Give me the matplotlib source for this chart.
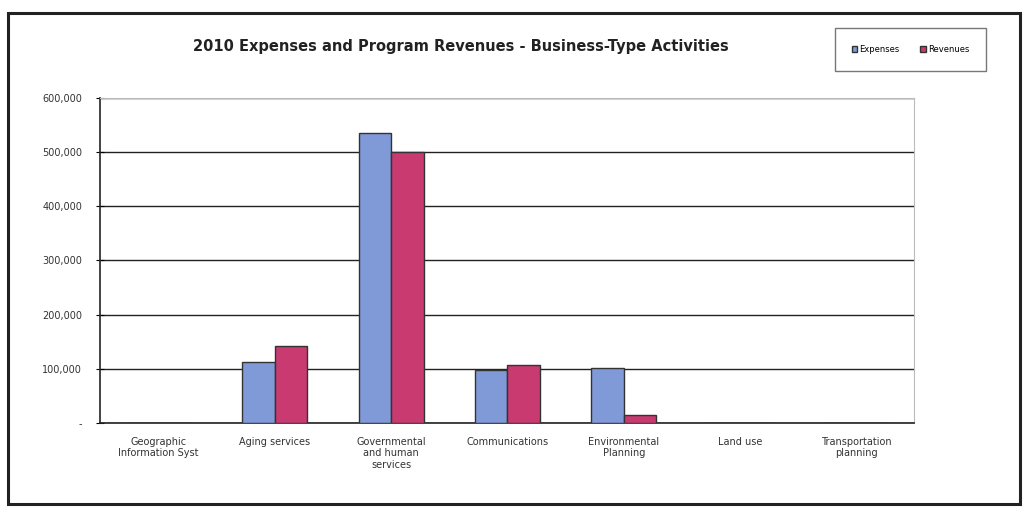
import numpy as np
import matplotlib.pyplot as plt
from matplotlib.patches import Rectangle

categories = ['Geographic\nInformation Syst', 'Aging services', 'Governmental\nand human\nservices',
              'Communications', 'Environmental\nPlanning', 'Land use', 'Transportation\nplanning']
expenses = [0, 112000, 535000, 97000, 102000, 0, 0]
revenues = [0, 142000, 500000, 106000, 15000, 0, 0]
yticks = [0, 100000, 200000, 300000, 400000, 500000, 600000]
ytick_labels = ['-', '100,000', '200,000', '300,000', '400,000', '500,000', '600,000']

blue = '#7f9ad6'
pink = '#c83a70'

fig = plt.figure(figsize=(10.24, 5.12), dpi=100)
# chart frame
fig.patches.append(Rectangle((0.008, 0.015), 0.988, 0.96, transform=fig.transFigure,
                             fill=False, edgecolor='#222222', linewidth=2.2))

ax = fig.add_axes([0.098, 0.174, 0.795, 0.635])
x = np.arange(len(categories))
w = 0.28
ax.bar(x - w / 2, expenses, w, color=blue, edgecolor='#333333', linewidth=1.0, label='Expenses', zorder=3)
ax.bar(x + w / 2, revenues, w, color=pink, edgecolor='#333333', linewidth=1.0, label='Revenues', zorder=3)

ax.set_xlim(-0.5, len(categories) - 0.5)
ax.set_ylim(0, 600000)
ax.set_yticks(yticks)
ax.set_yticklabels(ytick_labels, fontsize=7, color='#333333')
ax.set_xticks(x)
ax.set_xticklabels(categories, fontsize=7, color='#333333', va='top')
ax.tick_params(axis='x', length=0, pad=10)
ax.tick_params(axis='y', length=6, direction='inout', pad=10)
ax.grid(axis='y', color='#222222', linewidth=1.0, zorder=0)
for s in ['top', 'right']:
    ax.spines[s].set_color('#bbbbbb')
ax.spines['left'].set_color('#222222')
ax.spines['left'].set_linewidth(1.2)
ax.spines['bottom'].set_color('#222222')
ax.spines['bottom'].set_linewidth(1.2)

fig.text(0.45, 0.91, '2010 Expenses and Program Revenues - Business-Type Activities',
         ha='center', va='center', fontsize=10.5, fontweight='bold', color='#222222')

leg = fig.legend(loc='center', bbox_to_anchor=(0.889, 0.903), ncol=2, fontsize=6,
                 frameon=True, fancybox=False, edgecolor='#555555', handlelength=0.7,
                 handleheight=0.7, handletextpad=0.2, columnspacing=2.5,
                 borderpad=2.0, borderaxespad=0)
leg.get_frame().set_linewidth(1.0)

fig.savefig('out.png', dpi=100)
